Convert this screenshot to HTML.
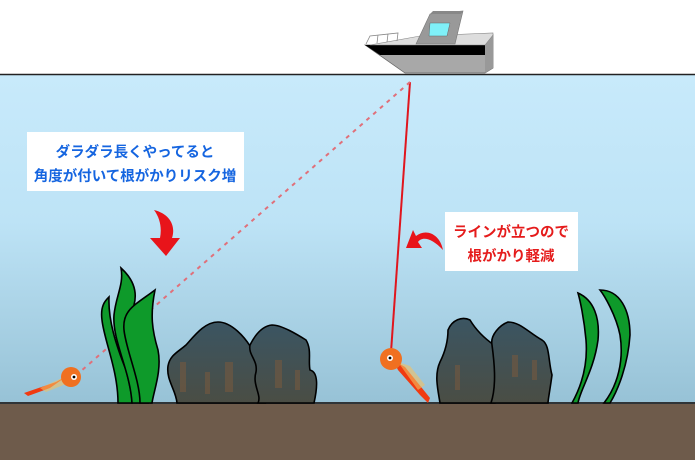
<!DOCTYPE html>
<html><head><meta charset="utf-8"><style>
html,body{margin:0;padding:0;width:695px;height:460px;overflow:hidden;background:#fff}
svg{display:block}
text{font-family:"Liberation Sans","Noto Sans CJK JP",sans-serif;font-weight:bold}
</style></head><body>
<svg width="695" height="460" viewBox="0 0 695 460" xmlns="http://www.w3.org/2000/svg">
<defs>
<linearGradient id="w" x1="0" y1="0" x2="0" y2="1">
<stop offset="0" stop-color="#c8eafb"/><stop offset="0.45" stop-color="#bde3f6"/><stop offset="1" stop-color="#97c2d6"/>
</linearGradient>
<linearGradient id="rk" x1="0" y1="0" x2="0" y2="1">
<stop offset="0" stop-color="#3b5562"/><stop offset="1" stop-color="#4a4d44"/>
</linearGradient>
</defs>
<rect x="0" y="0" width="695" height="74" fill="#fff"/>
<rect x="0" y="74" width="695" height="329" fill="url(#w)"/>
<line x1="0" y1="74.5" x2="695" y2="74.5" stroke="#222" stroke-width="1.5"/>
<!-- boat -->
<polygon points="365,45 485,45 493,35 493,68 485,73 405,73" fill="#a8a8a8" stroke="#666" stroke-width="0.7"/>
<polygon points="485,45 493,35 493,68 485,73" fill="#999"/>
<polygon points="365,45 485,45 485,55 380,55" fill="#000"/>
<polygon points="370,45 420,36 493,33 493,35 485,45" fill="#ddd" stroke="#888" stroke-width="0.6"/>
<polygon points="416,44 430,14 463,11 455,44" fill="#999" stroke="#777" stroke-width="0.6"/>
<polygon points="430,14 433,11 463,11 461,14" fill="#888"/>
<polygon points="430,23 450,23 447,36 429,36" fill="#7ff0f8" stroke="#666" stroke-width="0.5"/>
<path d="M366,44 L370,36 L398,33 L397,41 M378,35 L377,43 M388,34 L387,42" fill="none" stroke="#888" stroke-width="0.8"/>
<!-- lines -->
<line x1="410" y1="82" x2="391" y2="352" stroke="#e0161e" stroke-width="2"/>
<line x1="410" y1="82" x2="80" y2="372" stroke="#e0707a" stroke-width="2" stroke-dasharray="4,5"/>
<!-- boxes -->
<rect x="27" y="132" width="217" height="59" fill="#fff"/>
<text x="135" y="157" font-size="14.5" fill="#1565e0" text-anchor="middle">ダラダラ長くやってると</text>
<text x="135" y="181" font-size="14.5" fill="#1565e0" text-anchor="middle">角度が付いて根がかりリスク増</text>
<rect x="445" y="212" width="133" height="59" fill="#fff"/>
<text x="511" y="237" font-size="14.5" fill="#e51b1b" text-anchor="middle">ラインが立つので</text>
<text x="511" y="261" font-size="14.5" fill="#e51b1b" text-anchor="middle">根がかり軽減</text>
<!-- curved arrows -->
<path d="M154,210 C170,214 176,226 172,238 L180,238 L166,256 L150,238 L160,238 C162,228 160,218 154,210 Z" fill="#e8141a"/>
<path d="M443,250 C432,238 422,236 418,242 L422,248 L406,248 L413,230 L416,236 C426,228 440,234 443,250 Z" fill="#e8141a"/>
<!-- ground -->
<rect x="0" y="403" width="695" height="57" fill="#6e5b4b"/>
<line x1="0" y1="403" x2="695" y2="403" stroke="#2f3437" stroke-width="2"/>
<!-- weeds left -->
<g fill="#0e9a2a" stroke="#000" stroke-width="1.6">
<path d="M118,403 C118,370 104,340 102,320 C100,305 106,300 109,297 C108,320 116,345 126,370 C130,385 132,395 132,403 Z"/>
<path d="M132,403 C130,370 112,340 114,315 C116,295 124,285 121,268 C132,278 138,290 134,305 C132,320 138,335 145,360 C150,380 146,395 148,403 Z"/>
<path d="M140,403 C140,380 126,350 124,330 C122,310 135,305 155,290 C150,315 152,330 158,350 C162,370 154,390 152,403 Z"/>
</g>
<!-- rocks -->
<g fill="url(#rk)" stroke="#000" stroke-width="1.6">
<path d="M177,403 C176,390 166,380 168,366 C170,355 178,352 186,345 C195,335 205,322 218,322 C232,322 245,338 250,346 C256,352 262,358 260,372 C256,385 262,395 265,403 Z"/>
<path d="M258,403 C262,395 252,385 256,372 C258,360 248,355 250,345 C255,335 262,326 272,325 C282,325 298,335 306,340 C312,350 308,360 310,370 C318,372 318,385 314,403 Z"/>
<path d="M440,403 C438,390 434,375 440,362 C446,350 448,340 448,330 C452,320 462,316 470,320 C476,330 484,338 494,345 C498,360 500,380 495,403 Z"/>
<path d="M491,403 C497,385 494,360 492,345 C490,335 500,325 508,322 C520,322 528,332 542,340 C550,345 548,360 552,375 C550,390 548,400 548,403 Z"/>
</g>
<g fill="#7a5a3e" opacity="0.55">
<rect x="180" y="362" width="6" height="30"/><rect x="225" y="362" width="8" height="30"/><rect x="205" y="372" width="5" height="22"/>
<rect x="275" y="360" width="7" height="28"/><rect x="295" y="370" width="5" height="20"/>
<rect x="455" y="365" width="5" height="25"/><rect x="512" y="355" width="6" height="22"/><rect x="532" y="360" width="5" height="20"/>
</g>
<!-- weeds right -->
<g fill="#0e9a2a" stroke="#000" stroke-width="1.6">
<path d="M572,403 C582,385 588,365 586,340 C584,318 580,300 578,293 C594,300 600,318 598,340 C594,370 580,390 578,403 Z"/>
<path d="M604,403 C618,385 624,360 620,335 C616,315 604,295 600,290 C620,290 630,310 630,335 C628,365 618,390 610,403 Z"/>
</g>
<!-- lures -->
<g>
<polygon points="24,393 56,382 67,376 50,388 28,396" fill="#f03a10"/>
<polygon points="40,388 62,378 66,384 46,392" fill="#f4c060" opacity="0.6"/>
<circle cx="71" cy="377" r="10" fill="#f07020"/>
<circle cx="74" cy="377" r="3" fill="#fff"/><circle cx="74" cy="377" r="1.4" fill="#000"/>
<polygon points="393,360 405,367 430,398 428,403 420,395 398,370" fill="#f03a10"/>
<polygon points="398,362 410,366 425,385 418,390" fill="#f4c060" opacity="0.6"/>
<circle cx="391" cy="359" r="11" fill="#f07020"/>
<circle cx="390" cy="358" r="3" fill="#fff"/><circle cx="390" cy="358" r="1.4" fill="#000"/>
</g>
</svg>
</body></html>
